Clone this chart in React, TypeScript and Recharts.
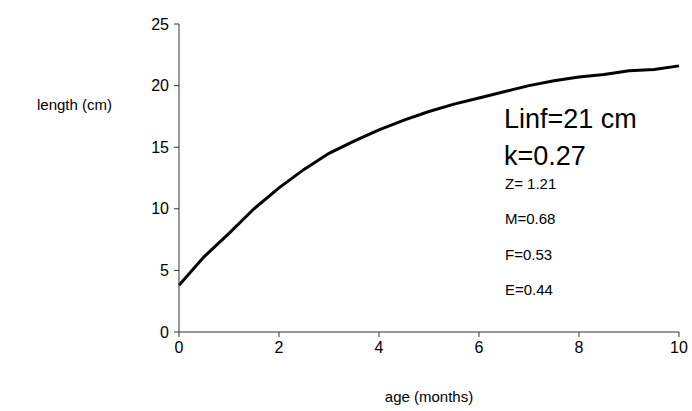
import React from 'react';
import { LineChart, Line, XAxis, YAxis } from 'recharts';

// age in months, length in cm
const ages = [0, 0.5, 1, 1.5, 2, 2.5, 3, 3.5, 4, 4.5, 5, 5.5, 6, 6.5, 7, 7.5, 8, 8.5, 9, 9.5, 10];
const lengths = [3.8, 6.1, 8.0, 10.0, 11.7, 13.2, 14.5, 15.5, 16.4, 17.2, 17.9, 18.5, 19.0, 19.5, 20.0, 20.4, 20.7, 20.9, 21.2, 21.3, 21.6];

const xTicks = [0, 2, 4, 6, 8, 10];
const yTicks = [0, 5, 10, 15, 20, 25];

const bigNotes = ['Linf=21 cm', 'k=0.27'];
const smallNotes = ['Z= 1.21', 'M=0.68', 'F=0.53', 'E=0.44'];

const data = ages.map((a, i) => ({ age: a, length: lengths[i] }));

const font = '"Liberation Sans", Arial, sans-serif';
const axisColor = '#333';

export default function App() {
  return (
    <div style={{ position: 'absolute', left: 0, top: 0, width: 692, height: 411, fontFamily: font, background: '#fff' }}>
      <LineChart width={692} height={411} data={data} margin={{ top: 24, right: 13, left: 119, bottom: 49 }}>
        <XAxis
          dataKey="age"
          type="number"
          domain={[0, 10]}
          ticks={xTicks}
          tickSize={5}
          tickMargin={5}
          stroke={axisColor}
          tick={{ fill: '#000', fontSize: 16, fontFamily: font }}
          label={{ value: 'age (months)', position: 'bottom', offset: 29, fill: '#000', fontSize: 15, fontFamily: font }}
        />
        <YAxis
          type="number"
          domain={[0, 25]}
          ticks={yTicks}
          width={60}
          tickSize={5}
          tickMargin={5}
          stroke={axisColor}
          tick={{ fill: '#000', fontSize: 16, fontFamily: font }}
        />
        <Line
          dataKey="length"
          type="linear"
          stroke="#000"
          strokeWidth={3}
          dot={false}
          isAnimationActive={false}
        />
      </LineChart>
      <div style={{ position: 'absolute', left: 37, top: 96, fontSize: 15 }}>length (cm)</div>
      {bigNotes.map((t, i) => (
        <div key={t} style={{ position: 'absolute', left: 504, top: 106 + i * 37, fontSize: 27, lineHeight: '27px' }}>{t}</div>
      ))}
      {smallNotes.map((t, i) => (
        <div key={t} style={{ position: 'absolute', left: 505, top: 176 + i * 35.3, fontSize: 15, lineHeight: '16px' }}>{t}</div>
      ))}
    </div>
  );
}
